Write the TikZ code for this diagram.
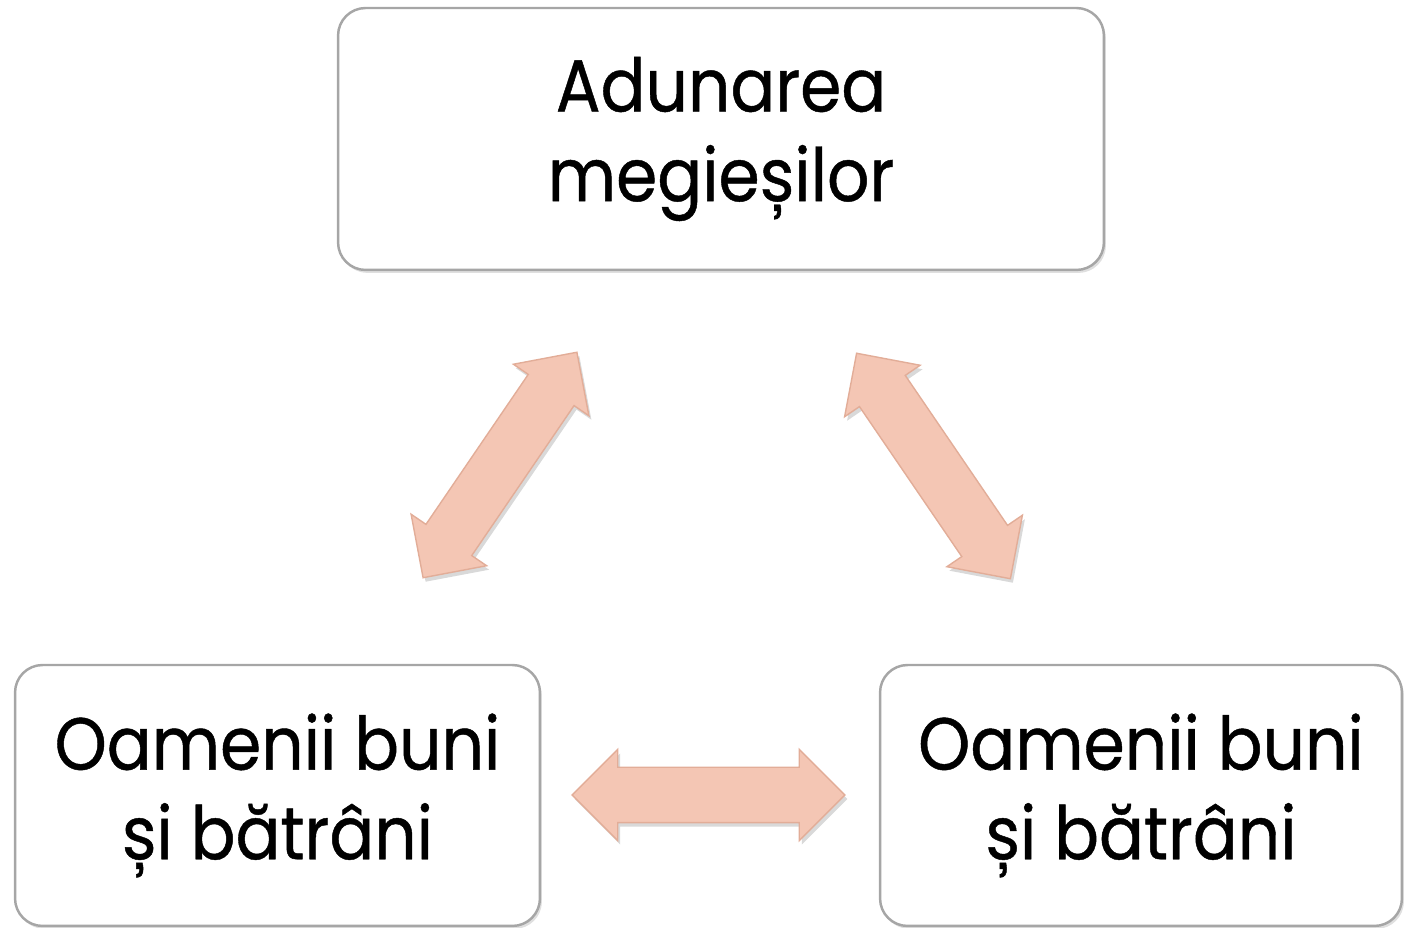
\documentclass[tikz,border=0pt]{standalone}
\usepackage{fontspec}
\setmainfont{Poppins}[FakeStretch=0.9,FakeBold=0.6]
\usetikzlibrary{shapes.arrows,shadows}

\definecolor{salmon}{HTML}{F4C6B4}
\definecolor{salmonedge}{HTML}{E2AD98}

\tikzset{
  box/.style={draw=gray!70, line width=1.4pt, fill=white, rounded corners=0.55cm,
    align=center, inner sep=0, font=\fontsize{42}{51}\selectfont,
    drop shadow={opacity=0.25, shadow xshift=0.04cm, shadow yshift=-0.06cm}},
  dblarrow/.style={double arrow, draw=salmonedge, line width=0.8pt, fill=salmon,
    inner xsep=0, inner ysep=0.54cm, minimum height=5.46cm,
    double arrow head extend=0.36cm, double arrow head indent=0cm,
    drop shadow={opacity=0.3, shadow xshift=0.05cm, shadow yshift=-0.08cm}}
}

\begin{document}
\begin{tikzpicture}[x=0.02cm,y=0.02cm]
        \useasboundingbox (0,0) rectangle (1404,928);
        \node[box, minimum width=15.32cm, minimum height=5.24cm] (top) at (721,789) {Adunarea\\megieșilor};
        \node[box, minimum width=10.5cm, minimum height=5.22cm] (left) at (277.5,132.5) {Oamenii buni\\și bătrâni};
        \node[box, minimum width=10.44cm, minimum height=5.22cm] (right) at (1141,132.5) {Oamenii buni\\și bătrâni};
        \node[dblarrow, rotate=55.7] (arrL) at (500,463) {};
        \node[dblarrow, rotate=-55.7] (arrR) at (933.5,462) {};
        \node[dblarrow] (arrB) at (708.5,133) {};
      \end{tikzpicture}
\end{document}
